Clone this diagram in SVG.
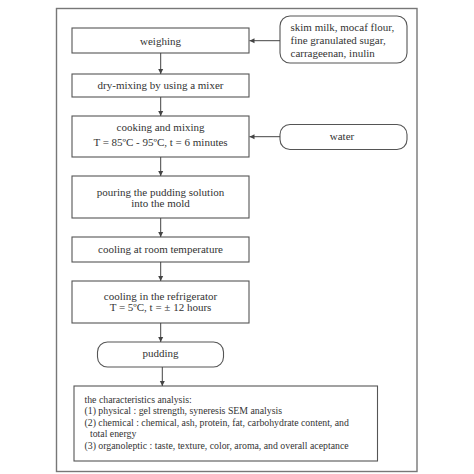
<svg xmlns="http://www.w3.org/2000/svg" width="474" height="474" viewBox="0 0 474 474">
<style>
.box{fill:#fff;stroke:#555;stroke-width:1.1}
.frame{fill:none;stroke:#777;stroke-width:1.4}
.t{font-family:"Liberation Serif","Times New Roman",serif;font-size:11px;fill:#333}
.c{text-anchor:middle}
.s{font-family:"Liberation Serif","Times New Roman",serif;font-size:9.8px;fill:#333}
.ln{stroke:#444;stroke-width:1;fill:none}
</style>
<defs>
<marker id="ah" markerWidth="6" markerHeight="6" refX="5" refY="3" orient="auto" markerUnits="userSpaceOnUse">
<path d="M0,0.5 L5,3 L0,5.5 Z" fill="#444"/>
</marker>
</defs>
<rect width="474" height="474" fill="#fff"/>
<rect class="frame" x="56.5" y="8.5" width="360.5" height="463"/>
<g id="weighing">
<rect class="box" x="72" y="28" width="177" height="25"/>
<text class="t c" x="160.5" y="44.5">weighing</text>
</g>
<g id="ingredients">
<rect class="box" x="280" y="16" width="127" height="47" rx="10"/>
<text class="t" x="290.5" y="31">skim milk, mocaf flour,</text>
<text class="t" x="290.5" y="44">fine granulated sugar,</text>
<text class="t" x="290.5" y="56.5">carrageenan, inulin</text>
</g>
<g id="drymixing">
<rect class="box" x="72" y="74" width="177" height="23"/>
<text class="t c" x="160.5" y="89">dry-mixing by using a mixer</text>
</g>
<g id="cooking">
<rect class="box" x="72" y="116" width="177" height="41"/>
<text class="t c" x="160.5" y="130.5">cooking and mixing</text>
<text class="t c" x="160.5" y="145.5">T = 85ºC - 95ºC, t = 6 minutes</text>
</g>
<g id="water">
<rect class="box" x="280" y="124.5" width="127" height="25" rx="10"/>
<text class="t c" x="342" y="140">water</text>
</g>
<g id="pouring">
<rect class="box" x="72" y="176" width="177" height="42"/>
<text class="t c" x="160.5" y="196">pouring the pudding solution</text>
<text class="t c" x="160.5" y="207">into the mold</text>
</g>
<g id="coolingroom">
<rect class="box" x="72" y="237" width="177" height="25"/>
<text class="t c" x="160.5" y="253">cooling at room temperature</text>
</g>
<g id="refrigerator">
<rect class="box" x="72" y="281" width="177" height="42"/>
<text class="t c" x="160.5" y="299.5">cooling in the refrigerator</text>
<text class="t c" x="160.5" y="310.5">T = 5ºC, t = ± 12 hours</text>
</g>
<g id="pudding">
<rect class="box" x="97.5" y="342" width="126" height="25" rx="10"/>
<text class="t c" x="160.5" y="357">pudding</text>
</g>
<g id="analysis">
<rect class="box" x="74" y="386" width="303.5" height="75"/>
<text class="s" x="84.5" y="403">the characteristics analysis:</text>
<text class="s" x="84.5" y="414">(1) physical : gel strength, syneresis SEM analysis</text>
<text class="s" x="84.5" y="425.5">(2) chemical : chemical, ash, protein, fat, carbohydrate content, and</text>
<text class="s" x="90" y="436.5">total energy</text>
<text class="s" x="84.5" y="449">(3) organoleptic : taste, texture, color, aroma, and overall aceptance</text>
</g>
<g id="connectors">
<line class="ln" x1="280" y1="40.7" x2="249.5" y2="40.7" marker-end="url(#ah)"/>
<line class="ln" x1="280" y1="136.7" x2="249.5" y2="136.7" marker-end="url(#ah)"/>
<line class="ln" x1="160.7" y1="53" x2="160.7" y2="74" marker-end="url(#ah)"/>
<line class="ln" x1="160.7" y1="97" x2="160.7" y2="116" marker-end="url(#ah)"/>
<line class="ln" x1="160.7" y1="157" x2="160.7" y2="176" marker-end="url(#ah)"/>
<line class="ln" x1="160.7" y1="218" x2="160.7" y2="237" marker-end="url(#ah)"/>
<line class="ln" x1="160.7" y1="262" x2="160.7" y2="281" marker-end="url(#ah)"/>
<line class="ln" x1="160.7" y1="323" x2="160.7" y2="342" marker-end="url(#ah)"/>
<line class="ln" x1="162.3" y1="367" x2="162.3" y2="386" marker-end="url(#ah)"/>
</g>
</svg>
